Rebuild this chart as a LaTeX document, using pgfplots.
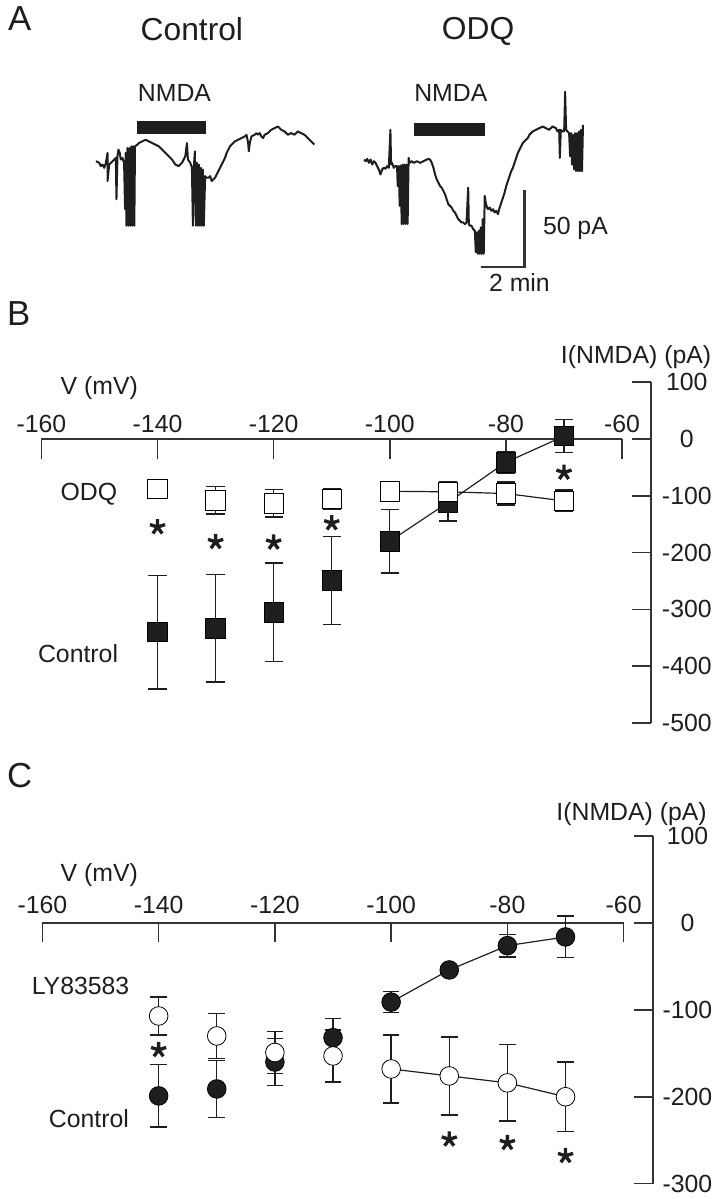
\documentclass[border=0pt]{standalone}
\usepackage{fontspec}
\setmainfont{Liberation Sans}
\usepackage{pgfplots}
\pgfplotsset{compat=1.18}

\definecolor{ink}{HTML}{1E1E1E}
\definecolor{axgray}{HTML}{333333}

\newcommand{\lbl}{\fontsize{12.5}{15}\selectfont}
\newcommand{\ttl}{\fontsize{16}{19}\selectfont}
\newcommand{\pnl}{\fontsize{17.5}{21}\selectfont}

\pgfplotsset{
  bare/.style={axis lines=none, ticks=none, clip=false},
  ivline/.style={ink, line width=0.6pt, mark=none},
  ivmarks/.style={only marks, mark options={ink, line width=0.7pt},
    error bars/y dir=both, error bars/y explicit,
    error bars/error bar style={ink, line width=0.7pt},
    error bars/error mark options={rotate=90, ink, line width=0.7pt, mark size=#1}},
  stars/.style={only marks, mark=star, mark size=4pt,
    mark options={ink, line width=1.7pt}},
}

\begin{document}
\begin{tikzpicture}

% ---------- frame: 1 unit = 1 px of the 719 x 1199 layout ----------
\begin{axis}[bare, at={(0,0)}, anchor=north west, x=0.5pt, y=0.5pt,
  xmin=0, xmax=719, ymin=0, ymax=1199, y dir=reverse]
  \path (axis cs:0,0) rectangle (axis cs:719,1199);
  \node[anchor=base west, font=\pnl, text=ink] at (axis cs:1,30) {A};
  \node[anchor=base west, font=\pnl, text=ink] at (axis cs:0,326.7) {B};
  \node[anchor=base west, font=\pnl, text=ink] at (axis cs:0,792.5) {C};
  % panel A titles and bars
  \node[anchor=base, font=\ttl, text=ink] at (axis cs:193.3,40) {Control};
  \node[anchor=base, font=\ttl, text=ink] at (axis cs:481.7,39) {ODQ};
  \node[anchor=base, font=\lbl, text=ink] at (axis cs:175.8,101.7) {NMDA};
  \node[anchor=base, font=\lbl, text=ink] at (axis cs:454.2,101.7) {NMDA};
  \fill[ink] (axis cs:138.3,120.7) rectangle (axis cs:207.3,134);
  \fill[ink] (axis cs:416.7,122.7) rectangle (axis cs:488.3,136);
  % scale bar
  \draw[axgray, line width=1.2pt] (axis cs:484.3,268.3) -- (axis cs:528.3,268.3) -- (axis cs:528.3,190.7);
  \node[anchor=base west, font=\lbl, text=ink] at (axis cs:540,235.7) {50 pA};
  \node[anchor=base west, font=\lbl, text=ink] at (axis cs:485.7,292.7) {2 min};
  % panel B labels
  \node[anchor=base, font=\lbl, text=ink] at (axis cs:100,396.7) {V (mV)};
  \node[anchor=base, font=\lbl, text=ink] at (axis cs:640.8,365) {I(NMDA) (pA)};
  \node[anchor=base east, font=\lbl, text=ink] at (axis cs:125,503) {ODQ};
  \node[anchor=base east, font=\lbl, text=ink] at (axis cs:126,667) {Control};
  % panel C labels
  \node[anchor=base, font=\lbl, text=ink] at (axis cs:100,887.3) {V (mV)};
  \node[anchor=base, font=\lbl, text=ink] at (axis cs:636.3,825.5) {I(NMDA) (pA)};
  \node[anchor=base east, font=\lbl, text=ink] at (axis cs:137.3,1001.5) {LY83583};
  \node[anchor=base east, font=\lbl, text=ink] at (axis cs:137,1135) {Control};
\end{axis}

% ---------- panel A: current traces (units of 1/3 px) ----------
\begin{axis}[bare, at={(0,0)}, anchor=north west, x=0.166667pt, y=0.166667pt,
  xmin=0, xmax=2157, ymin=0, ymax=900, y dir=reverse]
% control
\addplot[ink, line width=1pt, line join=round] coordinates {
(290,485) (300,490) (305,500) (310,495) (315,505) (320,490) (325,460) (325,545)
(330,495) (335,490) (345,480) (350,475) (352,600) (355,470) (358,450) (362,460)
(365,480) (370,475) (375,490) (378,630) (380,460) (382,680) (385,445) (388,680)
(391,445) (394,680) (397,440) (400,680) (403,440) (406,680) (408,440) (415,435)
(420,430) (430,425) (440,420) (450,425) (460,430) (470,435) (480,440) (490,450)
(500,460) (510,470) (520,480) (530,495) (540,500) (550,490) (555,480) (560,470)
(565,430) (568,480) (575,490) (580,505) (583,680) (586,500) (589,455) (592,680)
(595,490) (598,680) (601,495) (604,680) (607,505) (610,680) (613,510) (616,680)
(620,530) (625,535) (630,535) (635,530) (640,545) (645,540) (650,535) (655,525)
(660,515) (665,505) (670,495) (675,485) (680,475) (685,460) (690,450) (695,440)
(700,435) (710,425) (720,420) (730,415) (740,410) (745,405) (750,430) (752,455)
(755,430) (760,410) (770,405) (775,400) (780,405) (785,400) (790,410) (795,415)
(800,405) (810,400) (820,390) (830,385) (840,380) (845,385) (850,390) (860,395)
(870,405) (880,400) (890,405) (900,395) (910,400) (920,405) (930,415) (940,425)
(950,435)};
% ODQ
\addplot[ink, line width=1pt, line join=round] coordinates {
(1100,480) (1105,485) (1110,478) (1115,490) (1120,480) (1125,495) (1130,485) (1135,490)
(1140,500) (1145,510) (1150,525) (1155,510) (1160,505) (1165,508) (1170,500) (1175,505)
(1180,390) (1182,495) (1185,490) (1190,505) (1195,500) (1200,500) (1202,560) (1205,500)
(1208,620) (1211,498) (1214,675) (1217,495) (1220,675) (1223,495) (1226,675) (1229,495)
(1232,675) (1235,475) (1238,490) (1245,485) (1250,490) (1260,485) (1270,490) (1280,485)
(1290,480) (1295,478) (1300,480) (1305,490) (1310,505) (1315,525) (1320,540) (1325,550)
(1330,560) (1335,565) (1340,575) (1345,585) (1350,600) (1355,615) (1360,620) (1365,625)
(1370,635) (1375,640) (1380,650) (1385,660) (1390,665) (1395,670) (1400,670) (1405,675)
(1410,670) (1415,565) (1417,675) (1420,680) (1425,680) (1430,690) (1435,695) (1438,760)
(1441,700) (1444,765) (1447,695) (1450,765) (1453,685) (1456,765) (1459,660) (1462,765)
(1465,590) (1468,610) (1472,625) (1475,630) (1480,625) (1485,635) (1490,630) (1495,640)
(1500,635) (1505,645) (1510,625) (1515,610) (1520,595) (1525,580) (1530,560) (1535,545)
(1540,530) (1545,515) (1550,505) (1555,490) (1560,475) (1565,460) (1570,450) (1575,440)
(1580,430) (1585,425) (1590,420) (1595,415) (1600,405) (1605,400) (1610,395) (1620,390)
(1630,385) (1640,380) (1650,385) (1660,390) (1670,380) (1680,385) (1685,395) (1690,390)
(1692,475) (1695,390) (1700,395) (1705,395) (1708,275) (1711,390) (1715,395) (1720,400)
(1723,470) (1726,400) (1729,495) (1732,405) (1735,510) (1738,400) (1741,515) (1744,400)
(1747,515) (1750,395) (1753,515) (1756,390) (1759,515) (1762,375)};
\end{axis}

% ---------- panel B: I-V, ODQ ----------
\begin{axis}[bare, at={(20.85pt,-363.85pt)}, anchor=south west,
  x=2.925pt, y=0.28617pt, xmin=-160, xmax=-50, ymin=-500, ymax=100]
  \draw[axgray, line width=0.8pt] (axis cs:-160,0) -- (axis cs:-60,0);
  \pgfplotsinvokeforeach{-160,-140,-120,-100,-80,-60}{
    \draw[axgray, line width=0.8pt] (axis cs:#1,0) -- ([yshift=-10pt]axis cs:#1,0);
    \node[anchor=base, font=\lbl, text=ink, yshift=3.4pt] at (axis cs:#1,0) {#1};
  }
  \draw[axgray, line width=0.8pt] (axis cs:-55,100) -- (axis cs:-55,-500);
  \pgfplotsinvokeforeach{100,0,-100,-200,-300,-400,-500}{
    \draw[axgray, line width=0.8pt] (axis cs:-55,#1) -- ([xshift=-9.5pt]axis cs:-55,#1);
    \node[font=\lbl, text=ink, xshift=18pt] at (axis cs:-55,#1) {#1};
  }
  % control
  \addplot[ivline] coordinates {(-100,-180) (-90,-112) (-80,-41) (-70,5)};
  \addplot[ivmarks=4.6pt, mark=square*, mark size=4.9pt, mark options={fill=ink}]
    table[x index=0, y index=1, y error index=2] {
    -140 -340 100
    -130 -333 95
    -120 -305 87
    -110 -249 77
    -100 -180 56
    -90  -112 32
    -80  -41  19
    -70  5    29
  };
  % ODQ
  \addplot[ivline] coordinates {(-100,-92) (-90,-93) (-80,-96) (-70,-109)};
  \addplot[ivmarks=4.6pt, mark=square*, mark size=4.9pt, mark options={fill=white}]
    table[x index=0, y index=1, y error index=2] {
    -140 -88  5
    -130 -108 24
    -120 -113 24
    -110 -105 18
    -100 -92  5
    -90  -93  17
    -80  -96  20
    -70  -109 19
  };
  \addplot[stars] coordinates {(-140,-155) (-130,-181) (-120,-182) (-110,-148) (-70,-59)};
\end{axis}

% ---------- panel C: I-V, LY83583 ----------
\begin{axis}[bare, at={(21.35pt,-595.85pt)}, anchor=south west,
  x=2.928pt, y=0.4375pt, xmin=-160, xmax=-50, ymin=-300, ymax=100]
  \draw[axgray, line width=0.8pt] (axis cs:-160,0) -- (axis cs:-60,0);
  \pgfplotsinvokeforeach{-160,-140,-120,-100,-80,-60}{
    \draw[axgray, line width=0.8pt] (axis cs:#1,0) -- ([yshift=-9.5pt]axis cs:#1,0);
    \node[anchor=base, font=\lbl, text=ink, yshift=4.65pt] at (axis cs:#1,0) {#1};
  }
  \draw[axgray, line width=0.8pt] (axis cs:-55,100) -- (axis cs:-55,-300);
  \pgfplotsinvokeforeach{100,0,-100,-200,-300}{
    \draw[axgray, line width=0.8pt] (axis cs:-55,#1) -- ([xshift=-9.5pt]axis cs:-55,#1);
    \node[font=\lbl, text=ink, xshift=17.5pt] at (axis cs:-55,#1) {#1};
  }
  % control
  \addplot[ivline] coordinates {(-100,-91) (-90,-54) (-80,-26) (-70,-16)};
  \addplot[ivmarks=4.2pt, mark=*, mark size=4.7pt, mark options={fill=ink}]
    table[x index=0, y index=1, y error index=2] {
    -140 -199 36
    -130 -191 33
    -120 -160 27
    -110 -132 22
    -100 -91  12
    -90  -54  5
    -80  -26  13
    -70  -16  24
  };
  % LY83583
  \addplot[ivline] coordinates {(-100,-168) (-90,-176) (-80,-184) (-70,-200)};
  \addplot[ivmarks=4.2pt, mark=*, mark size=4.7pt, mark options={fill=white}]
    table[x index=0, y index=1, y error index=2] {
    -140 -107 22
    -130 -130 26
    -120 -149 24
    -110 -153 30
    -100 -168 39
    -90  -176 45
    -80  -184 44
    -70  -200 40
  };
  \addplot[stars] coordinates {(-140,-146) (-90,-249) (-80,-253) (-70,-268)};
\end{axis}

\end{tikzpicture}
\end{document}
